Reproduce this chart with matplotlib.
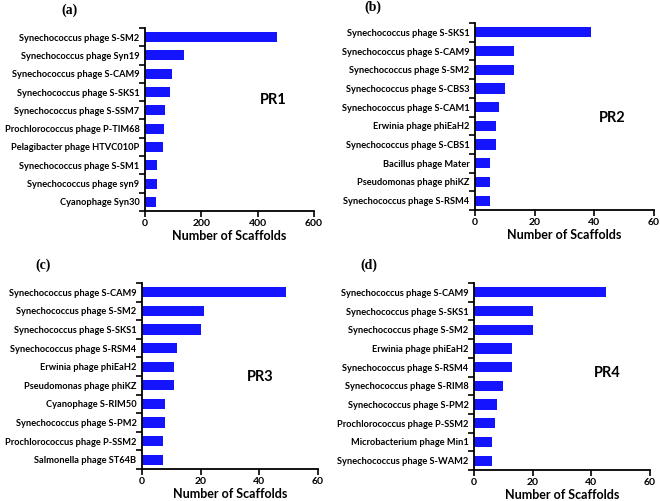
import matplotlib
matplotlib.use("Agg")
import matplotlib.pyplot as plt
import numpy as np

plt.rcParams['font.family'] = ['Lato', 'DejaVu Sans']

# Data
pr1_names = ['Synechococcus phage S-SM2', 'Synechococcus phage Syn19', 'Synechococcus phage S-CAM9',
             'Synechococcus phage S-SKS1', 'Synechococcus phage S-SSM7', 'Prochlorococcus phage P-TIM68',
             'Pelagibacter phage HTVC010P', 'Synechococcus phage S-SM1', 'Synechococcus phage syn9',
             'Cyanophage Syn30']
pr1_counts = [467, 138, 97, 90, 72, 66, 63, 43, 41, 39]

pr2_names = ['Synechococcus phage S-SKS1', 'Synechococcus phage S-CAM9', 'Synechococcus phage S-SM2',
             'Synechococcus phage S-CBS3', 'Synechococcus phage S-CAM1', 'Erwinia phage phiEaH2',
             'Synechococcus phage S-CBS1', 'Bacillus phage Mater', 'Pseudomonas phage phiKZ',
             'Synechococcus phage S-RSM4']
pr2_counts = [39, 13, 13, 10, 8, 7, 7, 5, 5, 5]

pr3_names = ['Synechococcus phage S-CAM9', 'Synechococcus phage S-SM2', 'Synechococcus phage S-SKS1',
             'Synechococcus phage S-RSM4', 'Erwinia phage phiEaH2', 'Pseudomonas phage phiKZ',
             'Cyanophage S-RIM50', 'Synechococcus phage S-PM2', 'Prochlorococcus phage P-SSM2',
             'Salmonella phage ST64B']
pr3_counts = [49, 21, 20, 12, 11, 11, 8, 8, 7, 7]

pr4_names = ['Synechococcus phage S-CAM9', 'Synechococcus phage S-SKS1', 'Synechococcus phage S-SM2',
             'Erwinia phage phiEaH2', 'Synechococcus phage S-RSM4', 'Synechococcus phage S-RIM8',
             'Synechococcus phage S-PM2', 'Prochlorococcus phage P-SSM2', 'Microbacterium phage Min1',
             'Synechococcus phage S-WAM2']
pr4_counts = [45, 20, 20, 13, 13, 10, 8, 7, 6, 6]

panels = [
    ('(a)', 'PR1', pr1_names, pr1_counts, [0, 200, 400, 600]),
    ('(b)', 'PR2', pr2_names, pr2_counts, [0, 20, 40, 60]),
    ('(c)', 'PR3', pr3_names, pr3_counts, [0, 20, 40, 60]),
    ('(d)', 'PR4', pr4_names, pr4_counts, [0, 20, 40, 60]),
]

W, H = 660, 501
# axes boxes in pixels: left, top, right, bottom
boxes = [(145, 28, 314, 211), (475, 23, 654, 210), (142, 283, 318, 469), (474, 283, 650, 470)]
letter_pos = [(70, 10), (373, 7), (43, 265), (369, 265)]
pr_pos = [(273, 100), (612, 118), (260, 377), (607, 373)]

fig = plt.figure(figsize=(W / 100, H / 100), dpi=100)

for (letter, pr, names, counts, xt), (l, t, r, b), (lx, ly), (px, py) in zip(panels, boxes, letter_pos, pr_pos):
    ax = fig.add_axes([l / W, 1 - b / H, (r - l) / W, (b - t) / H])
    y = np.arange(len(names))
    ax.barh(y, counts, height=0.55, color='#1414ff')
    ax.set_ylim(len(names) - 0.5, -0.5)
    ax.set_xlim(xt[0], xt[-1])
    ax.set_xticks(xt)
    ax.set_yticks(y)
    ax.set_yticklabels(names, fontsize=6.7, fontweight='bold')
    ax.tick_params(axis='y', length=0, pad=4)
    ax.set_yticks(np.arange(-0.5, len(names) + 0.5, 1), minor=True)
    ax.tick_params(axis='y', which='minor', length=4, width=1.2, direction='out')
    ax.tick_params(axis='x', length=4, width=1.2, labelsize=7.5, direction='out', pad=2)
    for lab in ax.get_xticklabels():
        lab.set_fontweight('bold')
    xl = ax.set_xlabel('Number of Scaffolds', fontsize=9, fontweight='bold', labelpad=1)
    for s in ['top', 'right']:
        ax.spines[s].set_visible(False)
    for s in ['left', 'bottom']:
        ax.spines[s].set_linewidth(1.3)
    fig.text(lx / W, 1 - ly / H, letter, ha='center', va='center', fontsize=10,
             fontweight='bold', family='Liberation Serif')
    fig.text(px / W, 1 - py / H, pr, ha='center', va='center', fontsize=10.5, fontweight='bold')

fig.savefig('out.png', dpi=100)
